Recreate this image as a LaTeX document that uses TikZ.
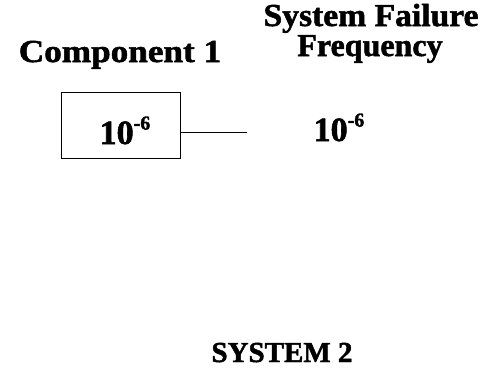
\documentclass[tikz,border=0pt]{standalone}
\usepackage{fontspec}
\setmainfont{Liberation Serif}
\newfontfamily\heavyfont[FakeBold=1.6]{Liberation Serif Bold}
\newcommand{\expval}{10\raisebox{0.42em}{\fontsize{20}{20}\selectfont -6}}
\begin{document}
\begin{tikzpicture}[x=1pt,y=-1pt,
  lbl/.style={font=\fontsize{32}{32}\heavyfont, inner sep=0pt, anchor=base},
  syslbl/.style={font=\fontsize{29}{29}\heavyfont, inner sep=0pt, anchor=base},
  val/.style={font=\fontsize{34}{34}\heavyfont, inner sep=0pt, anchor=base},
  boxst/.style={draw, line width=1pt, minimum width=119pt, minimum height=66pt, inner sep=0pt},
  wire/.style={line width=1pt}]
\useasboundingbox (0,0) rectangle (486,372);
\node[lbl] (comp) at (120,62) {\scalebox{1.1}[1]{Component 1}};
\node[lbl] (sf1) at (371,26) {\scalebox{1.05}[1]{System Failure}};
\node[lbl] (sf2) at (370,56) {Frequency};
\node[boxst] (box) at (120.5,125) {};
\node[val] (v1) at (125,144) {\expval};
\coordinate (lend) at (247,132);
\draw[wire] (box.east |- lend) -- (lend);
\node[val] (v2) at (339,141) {\expval};
\node[syslbl] (sys) at (282,362) {SYSTEM 2};
\end{tikzpicture}
\end{document}
